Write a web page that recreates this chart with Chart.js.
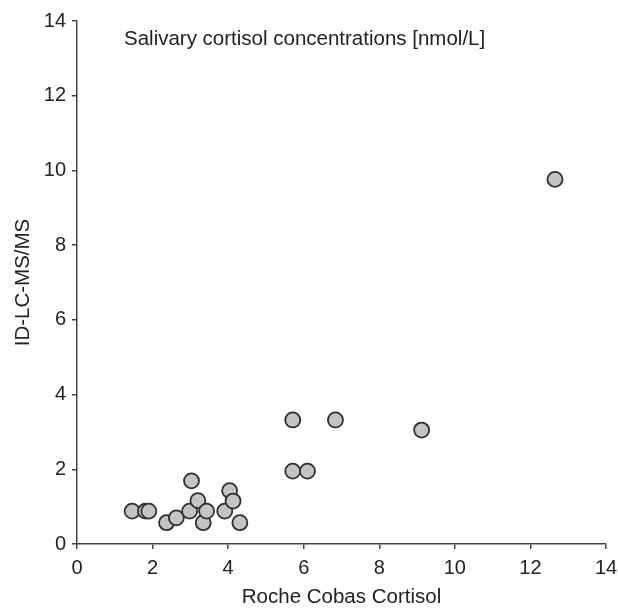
<!DOCTYPE html>
<html>
<head>
<meta charset="utf-8">
<script src="https://cdn.jsdelivr.net/npm/chart.js@4/dist/chart.umd.min.js"></script>
<style>
  html, body { margin: 0; padding: 0; background: #fff; }
  #wrap { width: 618px; height: 608px; }
</style>
</head>
<body>
<div id="wrap"><canvas id="cortisolChart" width="618" height="608"></canvas></div>
<script>
// Roche Cobas (x) vs ID-LC-MS/MS (y), nmol/L
const rocheCobas = [1.46, 1.81, 1.90, 2.37, 2.63, 3.03, 2.98, 3.20, 3.34, 3.43,
                    3.91, 4.04, 4.13, 4.31, 5.71, 5.71, 6.10, 6.84, 9.12, 12.65];
const idLcMsMs   = [0.88, 0.88, 0.88, 0.57, 0.70, 1.69, 0.88, 1.16, 0.57, 0.88,
                    0.88, 1.43, 1.15, 0.57, 3.32, 1.95, 1.95, 3.32, 3.05, 9.76];
const xTicks = [0, 2, 4, 6, 8, 10, 12, 14];
const yTicks = [0, 2, 4, 6, 8, 10, 12, 14];
const plotNote = 'Salivary cortisol concentrations [nmol/L]';

const textColor = '#222';
const axisColor = '#444';
const font = { family: '"Liberation Sans", Arial, sans-serif', size: 20 };

// Text inside the plot area, top left
const notePlugin = {
    id: 'plotNote',
    afterDraw(chart) {
        const ctx = chart.ctx;
        ctx.save();
        ctx.font = '20.5px "Liberation Sans", Arial, sans-serif';
        ctx.fillStyle = textColor;
        ctx.textBaseline = 'alphabetic';
        ctx.fillText(plotNote, chart.chartArea.left + 47, 45);
        ctx.restore();
    }
};

const ctx = document.getElementById('cortisolChart').getContext('2d');
const chart = new Chart(ctx, {
    type: 'scatter',
    data: {
        datasets: [{
            label: 'Cortisol',
            data: rocheCobas.map((x, i) => ({ x: x, y: idLcMsMs[i] })),
            backgroundColor: '#c4c4c4',
            borderColor: '#2e2e2e',
            borderWidth: 1.8,
            pointRadius: 7.5,
            pointHoverRadius: 7.5
        }]
    },
    options: {
        responsive: false,
        animation: false,
        layout: { padding: { left: 0, top: 21, right: 12, bottom: 0 } },
        plugins: {
            legend: { display: false },
            tooltip: { enabled: false }
        },
        scales: {
            x: {
                type: 'linear',
                min: 0,
                max: 14,
                afterBuildTicks: axis => { axis.ticks = xTicks.map(v => ({ value: v })); },
                afterFit: axis => {
                    axis.height = 64;
                    axis.paddingLeft = 0;
                    axis.paddingRight = 0;
                },
                ticks: { font: font, color: textColor, padding: 7, autoSkip: false, maxRotation: 0 },
                grid: { drawOnChartArea: false, drawTicks: true, tickLength: 5, color: axisColor, lineWidth: 1.5 },
                border: { display: true, color: axisColor, width: 1.5 },
                title: {
                    display: true,
                    text: 'Roche Cobas Cortisol',
                    font: { family: font.family, size: 20.5, lineHeight: 1.1 },
                    color: textColor,
                    padding: { top: 0, bottom: -1 }
                }
            },
            y: {
                type: 'linear',
                min: 0,
                max: 14,
                afterBuildTicks: axis => { axis.ticks = yTicks.map(v => ({ value: v })); },
                afterFit: axis => { axis.width = 77; },
                ticks: { font: font, color: textColor, padding: 6, autoSkip: false },
                grid: { drawOnChartArea: false, drawTicks: true, tickLength: 5, color: axisColor, lineWidth: 1.5 },
                border: { display: true, color: axisColor, width: 1.5 },
                title: {
                    display: true,
                    text: 'ID-LC-MS/MS',
                    font: { family: font.family, size: 20.5, lineHeight: 1.2 },
                    color: textColor,
                    padding: { top: 11, bottom: 0 }
                }
            }
        }
    },
    plugins: [notePlugin]
});
</script>
</body>
</html>
